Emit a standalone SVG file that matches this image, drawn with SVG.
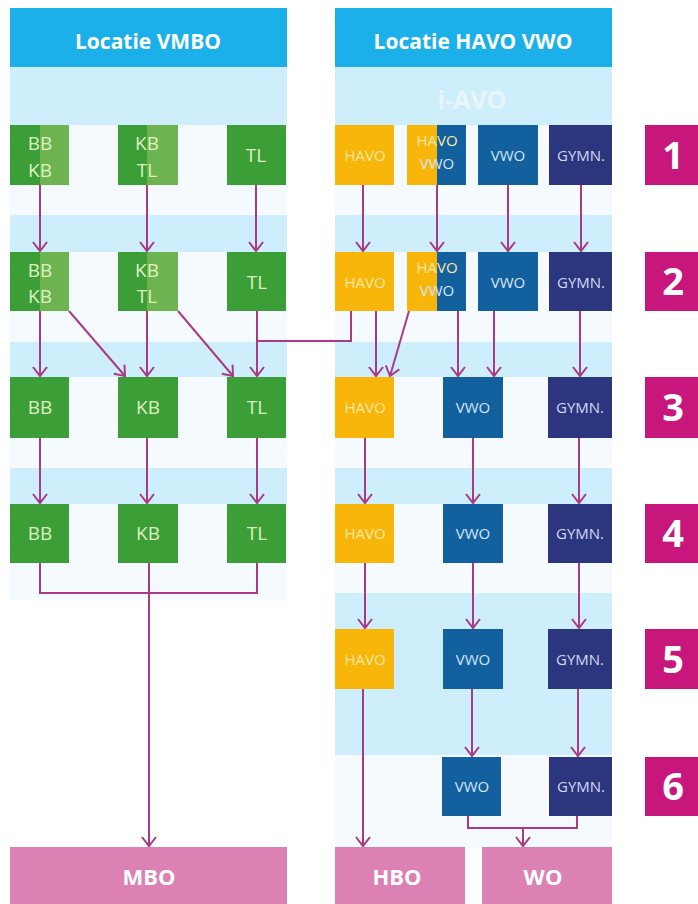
<svg xmlns="http://www.w3.org/2000/svg" width="698" height="904" viewBox="0 0 698 904">
<style>
.panel{fill:#f4fafd}
.band{fill:#cdeefa}
.head{fill:#1bb0e9}
.ht{font-family:"Open Sans","Liberation Sans",sans-serif;font-weight:bold;font-size:21px;fill:#fff;text-anchor:middle}
.g{fill:#3c9e36}
.lg{fill:#6db34f}
.gt{font-family:"Open Sans","Liberation Sans",sans-serif;font-size:19px;fill:#def1c0;text-anchor:middle}
.o{fill:#f8b50a}
.ot{font-family:"Open Sans","Liberation Sans",sans-serif;font-size:15px;fill:#fde8a6;text-anchor:middle}
.v{fill:#13609f}
.vt{font-family:"Open Sans","Liberation Sans",sans-serif;font-size:15px;fill:#d4e6f6;text-anchor:middle}
.y{fill:#2b367f}
.yt{font-family:"Open Sans","Liberation Sans",sans-serif;font-size:15px;fill:#d3d8ef;text-anchor:middle}
.b{fill:#c8177c}
.bt{font-family:"Open Sans","Liberation Sans",sans-serif;font-weight:bold;font-size:38px;fill:#fff;text-anchor:middle}
.p{fill:#db81b3}
.pt{font-family:"Open Sans","Liberation Sans",sans-serif;font-weight:bold;font-size:22px;fill:#fff;text-anchor:middle}
.c{fill:none;stroke:#a83a86;stroke-width:2}
</style>
<defs>
<marker id="ah" viewBox="-12 -9 14 18" refX="0" refY="0" markerWidth="14" markerHeight="18" markerUnits="userSpaceOnUse" orient="auto" overflow="visible">
<polyline points="-9,-7 0,0 -9,7" fill="none" stroke="#a83a86" stroke-width="2"/>
</marker>
</defs>
<rect width="698" height="904" fill="#fff"/>
<g id="background">
<rect class="panel" x="10" y="8" width="277" height="592"/>
<rect class="panel" x="335" y="8" width="277" height="840"/>
<rect class="band" x="10" y="67" width="277" height="58"/>
<rect class="band" x="335" y="67" width="277" height="58"/>
<rect class="band" x="10" y="215" width="277" height="37"/>
<rect class="band" x="335" y="215" width="277" height="37"/>
<rect class="band" x="10" y="342" width="277" height="35"/>
<rect class="band" x="335" y="342" width="277" height="35"/>
<rect class="band" x="10" y="468" width="277" height="36"/>
<rect class="band" x="335" y="468" width="277" height="36"/>
<rect class="band" x="335" y="593" width="277" height="162"/>
<text x="472" y="109" font-family="Open Sans, Liberation Sans, sans-serif" font-weight="bold" font-size="25" fill="#e6f6fc" text-anchor="middle">i-AVO</text>
</g>
<g id="head-vmbo"><rect class="head" x="10" y="8" width="277" height="59"/><text class="ht" x="148" y="49">Locatie VMBO</text></g>
<g id="head-havovwo"><rect class="head" x="335" y="8" width="277" height="59"/><text class="ht" x="473" y="49">Locatie HAVO VWO</text></g>
<g id="connectors">
<line class="c" x1="40" y1="185" x2="40" y2="251" marker-end="url(#ah)"/>
<line class="c" x1="147" y1="185" x2="147" y2="251" marker-end="url(#ah)"/>
<line class="c" x1="256" y1="185" x2="256" y2="251" marker-end="url(#ah)"/>
<line class="c" x1="363" y1="185" x2="363" y2="251" marker-end="url(#ah)"/>
<line class="c" x1="437" y1="185" x2="437" y2="251" marker-end="url(#ah)"/>
<line class="c" x1="508" y1="185" x2="508" y2="251" marker-end="url(#ah)"/>
<line class="c" x1="581" y1="185" x2="581" y2="251" marker-end="url(#ah)"/>
<line class="c" x1="40" y1="311" x2="40" y2="376" marker-end="url(#ah)"/>
<line class="c" x1="69" y1="311" x2="125" y2="376" marker-end="url(#ah)"/>
<line class="c" x1="147" y1="311" x2="147" y2="376" marker-end="url(#ah)"/>
<line class="c" x1="178" y1="311" x2="233" y2="376" marker-end="url(#ah)"/>
<line class="c" x1="257" y1="311" x2="257" y2="376" marker-end="url(#ah)"/>
<polyline class="c" points="351,311 351,341 257,341"/>
<line class="c" x1="376" y1="311" x2="376" y2="376" marker-end="url(#ah)"/>
<line class="c" x1="409" y1="311" x2="390" y2="376" marker-end="url(#ah)"/>
<line class="c" x1="458" y1="311" x2="458" y2="376" marker-end="url(#ah)"/>
<line class="c" x1="494" y1="311" x2="494" y2="376" marker-end="url(#ah)"/>
<line class="c" x1="580" y1="311" x2="580" y2="376" marker-end="url(#ah)"/>
<line class="c" x1="40" y1="438" x2="40" y2="503" marker-end="url(#ah)"/>
<line class="c" x1="147" y1="438" x2="147" y2="503" marker-end="url(#ah)"/>
<line class="c" x1="257" y1="438" x2="257" y2="503" marker-end="url(#ah)"/>
<line class="c" x1="365" y1="438" x2="365" y2="503" marker-end="url(#ah)"/>
<line class="c" x1="473" y1="438" x2="473" y2="503" marker-end="url(#ah)"/>
<line class="c" x1="579" y1="438" x2="579" y2="503" marker-end="url(#ah)"/>
<line class="c" x1="365" y1="563" x2="365" y2="628" marker-end="url(#ah)"/>
<line class="c" x1="473" y1="563" x2="473" y2="628" marker-end="url(#ah)"/>
<line class="c" x1="579" y1="563" x2="579" y2="628" marker-end="url(#ah)"/>
<polyline class="c" points="40,563 40,593 257,593 257,563"/>
<line class="c" x1="149" y1="563" x2="149" y2="846" marker-end="url(#ah)"/>
<line class="c" x1="363" y1="689" x2="363" y2="846" marker-end="url(#ah)"/>
<line class="c" x1="472" y1="689" x2="472" y2="756" marker-end="url(#ah)"/>
<line class="c" x1="578" y1="689" x2="578" y2="756" marker-end="url(#ah)"/>
<polyline class="c" points="468,816 468,828 577,828 577,816"/>
<line class="c" x1="523" y1="828" x2="523" y2="846" marker-end="url(#ah)"/>
</g>
<g id="r1-bbkb"><rect class="g" x="10" y="125" width="30" height="60"/><rect class="lg" x="40" y="125" width="29" height="60"/><text class="gt" x="40" y="150">BB</text><text class="gt" x="40" y="177">KB</text></g>
<g id="r1-kbtl"><rect class="g" x="118" y="125" width="29" height="60"/><rect class="lg" x="147" y="125" width="31" height="60"/><text class="gt" x="147" y="150">KB</text><text class="gt" x="147" y="177">TL</text></g>
<g id="r1-tl"><rect class="g" x="227" y="125" width="59" height="60"/><text class="gt" x="256" y="162">TL</text></g>
<g id="r1-havo"><rect class="o" x="335" y="125" width="59" height="60"/><text class="ot" x="365" y="161">HAVO</text></g>
<g id="r1-havovwo"><rect class="o" x="407" y="125" width="30" height="60"/><rect class="v" x="437" y="125" width="29" height="60"/><text class="ot" x="437" y="146">HAVO</text><text class="vt" x="437" y="169">VWO</text></g>
<g id="r1-vwo"><rect class="v" x="478" y="125" width="60" height="60"/><text class="vt" x="508" y="161">VWO</text></g>
<g id="r1-gymn"><rect class="y" x="549" y="125" width="63" height="60"/><text class="yt" x="581" y="161">GYMN.</text></g>
<g id="n1"><rect class="b" x="645" y="125" width="53" height="60"/><text class="bt" x="673" y="169">1</text></g>
<g id="r2-bbkb"><rect class="g" x="10" y="252" width="30" height="59"/><rect class="lg" x="40" y="252" width="29" height="59"/><text class="gt" x="40" y="277">BB</text><text class="gt" x="40" y="303">KB</text></g>
<g id="r2-kbtl"><rect class="g" x="118" y="252" width="29" height="59"/><rect class="lg" x="147" y="252" width="31" height="59"/><text class="gt" x="147" y="277">KB</text><text class="gt" x="147" y="303">TL</text></g>
<g id="r2-tl"><rect class="g" x="227" y="252" width="59" height="59"/><text class="gt" x="257" y="289">TL</text></g>
<g id="r2-havo"><rect class="o" x="335" y="252" width="59" height="59"/><text class="ot" x="365" y="288">HAVO</text></g>
<g id="r2-havovwo"><rect class="o" x="407" y="252" width="30" height="59"/><rect class="v" x="437" y="252" width="29" height="59"/><text class="ot" x="437" y="273">HAVO</text><text class="vt" x="437" y="296">VWO</text></g>
<g id="r2-vwo"><rect class="v" x="478" y="252" width="60" height="59"/><text class="vt" x="508" y="288">VWO</text></g>
<g id="r2-gymn"><rect class="y" x="549" y="252" width="63" height="59"/><text class="yt" x="581" y="288">GYMN.</text></g>
<g id="n2"><rect class="b" x="645" y="252" width="53" height="59"/><text class="bt" x="673" y="295">2</text></g>
<g id="r3-bb"><rect class="g" x="10" y="377" width="59" height="61"/><text class="gt" x="40" y="414">BB</text></g>
<g id="r3-kb"><rect class="g" x="118" y="377" width="60" height="61"/><text class="gt" x="148" y="414">KB</text></g>
<g id="r3-tl"><rect class="g" x="227" y="377" width="59" height="61"/><text class="gt" x="257" y="414">TL</text></g>
<g id="r3-havo"><rect class="o" x="335" y="377" width="59" height="61"/><text class="ot" x="365" y="413">HAVO</text></g>
<g id="r3-vwo"><rect class="v" x="443" y="377" width="60" height="61"/><text class="vt" x="473" y="413">VWO</text></g>
<g id="r3-gymn"><rect class="y" x="548" y="377" width="64" height="61"/><text class="yt" x="580" y="413">GYMN.</text></g>
<g id="n3"><rect class="b" x="645" y="377" width="53" height="61"/><text class="bt" x="673" y="421">3</text></g>
<g id="r4-bb"><rect class="g" x="10" y="504" width="59" height="59"/><text class="gt" x="40" y="540">BB</text></g>
<g id="r4-kb"><rect class="g" x="118" y="504" width="60" height="59"/><text class="gt" x="148" y="540">KB</text></g>
<g id="r4-tl"><rect class="g" x="227" y="504" width="59" height="59"/><text class="gt" x="257" y="540">TL</text></g>
<g id="r4-havo"><rect class="o" x="335" y="504" width="59" height="59"/><text class="ot" x="365" y="539">HAVO</text></g>
<g id="r4-vwo"><rect class="v" x="443" y="504" width="60" height="59"/><text class="vt" x="473" y="539">VWO</text></g>
<g id="r4-gymn"><rect class="y" x="548" y="504" width="64" height="59"/><text class="yt" x="580" y="539">GYMN.</text></g>
<g id="n4"><rect class="b" x="645" y="504" width="53" height="59"/><text class="bt" x="673" y="547">4</text></g>
<g id="r5-havo"><rect class="o" x="335" y="629" width="59" height="60"/><text class="ot" x="365" y="665">HAVO</text></g>
<g id="r5-vwo"><rect class="v" x="443" y="629" width="60" height="60"/><text class="vt" x="473" y="665">VWO</text></g>
<g id="r5-gymn"><rect class="y" x="548" y="629" width="64" height="60"/><text class="yt" x="580" y="665">GYMN.</text></g>
<g id="n5"><rect class="b" x="645" y="629" width="53" height="60"/><text class="bt" x="673" y="673">5</text></g>
<g id="r6-vwo"><rect class="v" x="442" y="757" width="59" height="59"/><text class="vt" x="472" y="792">VWO</text></g>
<g id="r6-gymn"><rect class="y" x="549" y="757" width="63" height="59"/><text class="yt" x="581" y="792">GYMN.</text></g>
<g id="n6"><rect class="b" x="645" y="757" width="53" height="59"/><text class="bt" x="673" y="800">6</text></g>
<g id="mbo"><rect class="p" x="10" y="847" width="277" height="57"/><text class="pt" x="149" y="885">MBO</text></g>
<g id="hbo"><rect class="p" x="335" y="847" width="130" height="57"/><text class="pt" x="397" y="885">HBO</text></g>
<g id="wo"><rect class="p" x="482" y="847" width="130" height="57"/><text class="pt" x="543" y="885">WO</text></g>
</svg>
